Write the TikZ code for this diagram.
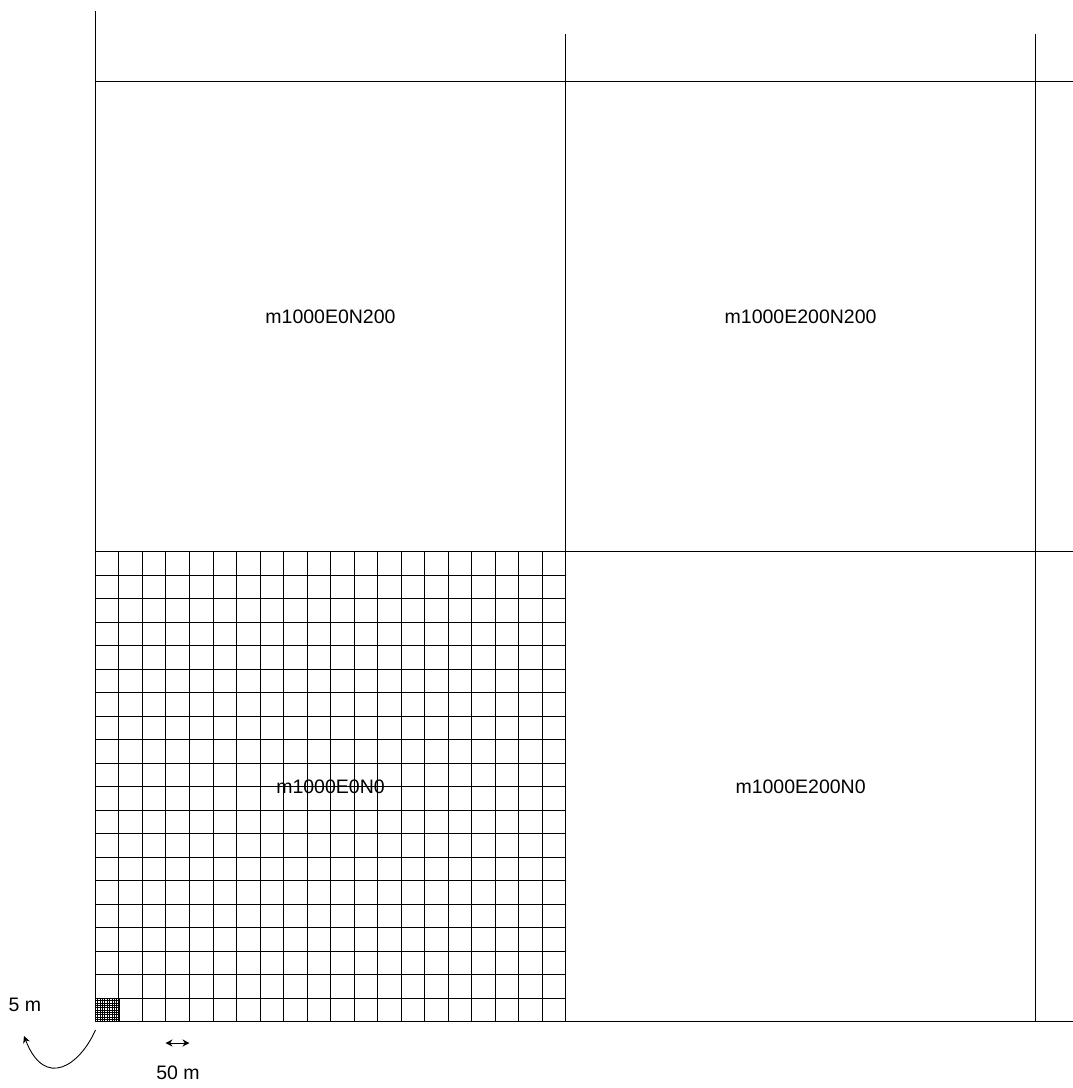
\documentclass[tikz,border=0pt]{standalone}
\usepackage{fontspec}
\setmainfont{Liberation Sans}
\usetikzlibrary{arrows.meta}
\begin{document}
\begin{tikzpicture}[x=1pt,y=-1pt,
  frame/.style={line width=0.9pt,black},
  gridline/.style={line width=0.8pt,black},
  fine/.style={line width=0.5pt,black},
  lbl/.style={font=\fontsize{19.5}{22}\selectfont,inner sep=0pt},
  tip/.style={Stealth[length=7pt,width=7pt]},
  arr/.style={line width=0.9pt,-{Stealth[length=7pt,width=7pt]}}]
\useasboundingbox (0,0) rectangle (1073,1088);
% fine grid in first cell
\foreach \i in {0,...,10}{
  \draw[fine] ({95.3+2.352*\i},998.2) -- ({95.3+2.352*\i},1021.7);
  \draw[fine] (95.3,{998.2+2.35*\i}) -- (118.8,{998.2+2.35*\i});
}
% 20x20 grid
\foreach \i in {1,...,19}{
  \draw[gridline] ({95.3+23.52*\i},551.7) -- ({95.3+23.52*\i},1021.7);
  \draw[gridline] (95.3,{551.7+23.5*\i}) -- (565.7,{551.7+23.5*\i});
}
% frame lines
\draw[frame] (95.3,11) -- (95.3,1021.7);
\draw[frame] (565.7,34) -- (565.7,1021.7);
\draw[frame] (1035.5,34) -- (1035.5,1021.7);
\draw[frame] (95.3,81.3) -- (1073,81.3);
\draw[frame] (95.3,551.7) -- (1073,551.7);
\draw[frame] (95.3,1021.7) -- (1073,1021.7);
% labels
\node[lbl] (a) at (330.5,316.5) {m1000E0N200};
\node[lbl] (b) at (800.6,316.5) {m1000E200N200};
\node[lbl] (c) at (330.5,786.7) {m1000E0N0};
\node[lbl] (d) at (800.6,786.7) {m1000E200N0};
\node[lbl] (fivem) at (25,1005) {5 m};
\node[lbl] (fiftym) at (178,1073) {50 m};
% arrows
\coordinate (cs) at (95.5,1030);
\coordinate (ce) at (24,1036);
\draw[arr] (cs) .. controls (80,1065) and (45,1090) .. (ce);
\coordinate (ds) at (165.5,1043);
\coordinate (de) at (189.5,1043);
\draw[line width=0.9pt,{Stealth[length=7pt,width=7pt]}-{Stealth[length=7pt,width=7pt]}] (ds) -- (de);
\end{tikzpicture}
\end{document}
